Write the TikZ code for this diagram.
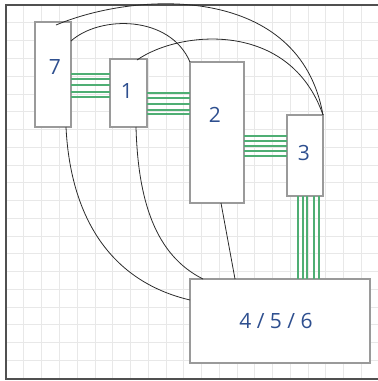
\documentclass[tikz,border=0pt]{standalone}
\usepackage{fontspec}
\setmainfont{Open Sans}
\definecolor{gridc}{HTML}{E8E8E8}
\definecolor{framec}{HTML}{505050}
\definecolor{boxc}{HTML}{9A9A9A}
\definecolor{busc}{HTML}{4FAE74}
\definecolor{inkc}{HTML}{2E4F8F}
\definecolor{wirec}{HTML}{2A2A2A}
\begin{document}
\begin{tikzpicture}[x=1pt,y=-1pt,
  blk/.style={draw=boxc,line width=1.5pt,rectangle,inner sep=0pt,outer sep=0pt,fill=white},
  bus/.style={draw=busc,line width=1.2pt},
  wire/.style={draw=wirec,line width=0.8pt},
  lbl/.style={text=inkc,inner sep=0pt,font=\fontsize{21}{24}\selectfont}]
\useasboundingbox (0,0) rectangle (378,381);
% grid
\foreach \i in {0,...,21} {
  \draw[gridc,line width=0.6pt] ({6+\i*17.76},5) -- ({6+\i*17.76},379);
  \draw[gridc,line width=0.6pt] (6,{5+\i*17.76}) -- (378,{5+\i*17.76});
}
% frame
\draw[framec,line width=1.5pt] (378,5) -- (6,5) -- (6,379) -- (378,379);
% boxes
\node[blk,minimum width=36pt,minimum height=105pt] (b7) at (53,74.5) {};
\node[blk,minimum width=37pt,minimum height=68pt] (b1) at (128.5,93) {};
\node[blk,minimum width=54pt,minimum height=141pt] (b2) at (217,132.5) {};
\node[blk,minimum width=36pt,minimum height=81pt] (b3) at (305,155.5) {};
\node[blk,minimum width=180pt,minimum height=84pt] (b456) at (280,321) {};
% labels
\node[lbl] (l7) at (55,67) {7};
\node[lbl] (l1) at (127,91) {1};
\node[lbl] (l2) at (215,115) {2};
\node[lbl] (l3) at (304,153) {3};
\node[lbl] (l456) at (276,321) {4 / 5 / 6};
% buses
\foreach \y in {74,79,85,92,97} \draw[bus] (b7.east |- 0,\y) -- (b1.west |- 0,\y);
\foreach \y in {93,98,104,110,114} \draw[bus] (b1.east |- 0,\y) -- (b2.west |- 0,\y);
\foreach \y in {136,141,146,151,156} \draw[bus] (b2.east |- 0,\y) -- (b3.west |- 0,\y);
\foreach \x in {298,303,307,314,319} \draw[bus] (b3.south -| \x,0) -- (b456.north -| \x,0);
% wire end points
\coordinate (p7t) at (56,25);
\coordinate (p7r) at (b7.east |- 0,41);
\coordinate (p7b) at (66,127);
\coordinate (p1t) at (137,60);
\coordinate (p1b) at (136,127);
\coordinate (p2b) at (221,203);
\coordinate (p456l) at (b456.west |- 0,300);
\coordinate (p456a) at (203,279);
\coordinate (p456b) at (235,279);
% wires
\draw[wire] (p7t) .. controls (140,-10) and (300,-15) .. (b3.north east);
\draw[wire] (p1t) .. controls (180,30) and (290,20) .. (b3.north east);
\draw[wire] (p7r) .. controls (100,15) and (170,15) .. (b2.north west);
\draw[wire] (p7b) .. controls (70,210) and (105,280) .. (p456l);
\draw[wire] (p1b) .. controls (138,200) and (155,255) .. (p456a);
\draw[wire] (p2b) -- (p456b);
\end{tikzpicture}
\end{document}
